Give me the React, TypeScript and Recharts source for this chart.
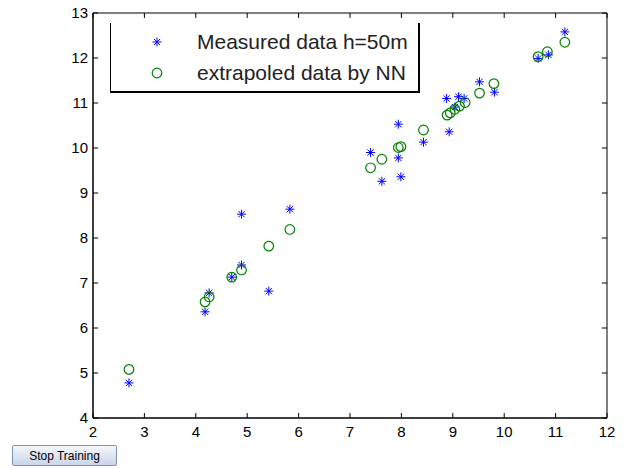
import { ReferenceArea, ReferenceLine, Scatter, ScatterChart, XAxis, YAxis } from 'recharts';

// measured (blue asterisks)
const measuredX = [2.7, 4.18, 4.26, 4.7, 4.89, 4.89, 5.42, 5.83, 7.4, 7.62, 7.94, 7.94, 7.99, 8.43, 8.88, 8.93, 9.04, 9.11, 9.22, 9.52, 9.81, 10.66, 10.86, 11.18];
const measuredY = [4.78, 6.36, 6.78, 7.13, 7.4, 8.53, 6.82, 8.64, 9.9, 9.26, 10.53, 9.78, 9.36, 10.13, 11.1, 10.36, 10.91, 11.14, 11.1, 11.47, 11.24, 11.99, 12.07, 12.58];

// network output (green circles)
const nnX = [2.7, 4.18, 4.26, 4.7, 4.89, 5.42, 5.83, 7.4, 7.62, 7.94, 7.99, 8.43, 8.89, 8.95, 9.04, 9.13, 9.24, 9.52, 9.8, 10.66, 10.84, 11.18];
const nnY = [5.08, 6.58, 6.69, 7.13, 7.29, 7.82, 8.19, 9.56, 9.75, 10.01, 10.03, 10.4, 10.73, 10.78, 10.86, 10.93, 11.01, 11.22, 11.43, 12.03, 12.14, 12.35];

const xTicks = [2, 3, 4, 5, 6, 7, 8, 9, 10, 11, 12];
const yTicks = [4, 5, 6, 7, 8, 9, 10, 11, 12, 13];

const measured = measuredX.map((x, i) => ({ x, y: measuredY[i] }));
const extrapolated = nnX.map((x, i) => ({ x, y: nnY[i] }));

const BLUE = '#0000ff';
const GREEN = '#008000';
const FONT = '"Liberation Sans", Arial, sans-serif';

// tick length in data units (~5px)
const TX = 0.1;
const TY = 0.11;

function Star({ cx, cy }: { cx?: number; cy?: number }) {
  if (cx == null || cy == null) return null;
  const r = 4.5;
  const d = r * 0.7;
  return (
    <g stroke={BLUE} strokeWidth={1}>
      <line x1={cx - r} y1={cy} x2={cx + r} y2={cy} />
      <line x1={cx} y1={cy - r} x2={cx} y2={cy + r} />
      <line x1={cx - d} y1={cy - d} x2={cx + d} y2={cy + d} />
      <line x1={cx - d} y1={cy + d} x2={cx + d} y2={cy - d} />
    </g>
  );
}

function Ring({ cx, cy }: { cx?: number; cy?: number }) {
  if (cx == null || cy == null) return null;
  return <circle cx={cx} cy={cy} r={4.8} fill="none" stroke={GREEN} strokeWidth={1.2} />;
}

function LegendBox() {
  const row = { display: 'flex', alignItems: 'center', height: 31 } as const;
  return (
    <div
      style={{
        position: 'absolute',
        left: 110,
        top: 23,
        width: 310,
        height: 70,
        borderLeft: '1px solid #000',
        borderRight: '2px solid #000',
        borderBottom: '2px solid #000',
        background: '#fff',
        fontFamily: FONT,
        fontSize: 21,
        color: '#222',
        paddingTop: 3,
        boxSizing: 'border-box',
      }}
    >
      <div style={row}>
        <svg width={86} height={20}>
          <Star cx={46} cy={10} />
        </svg>
        <span>Measured data h=50m</span>
      </div>
      <div style={row}>
        <svg width={86} height={20}>
          <Ring cx={46} cy={10} />
        </svg>
        <span>extrapoled data by NN</span>
      </div>
    </div>
  );
}

export default function App() {
  return (
    <div style={{ position: 'absolute', left: 0, top: 0, width: 624, height: 468, background: '#fff' }}>
      <ScatterChart width={624} height={468} margin={{ top: 13, right: 17, left: 0, bottom: 0 }}>
        <XAxis
          type="number"
          dataKey="x"
          domain={[2, 12]}
          ticks={xTicks}
          interval={0}
          height={50}
          stroke="#000"
          tickSize={0}
          tickMargin={8}
          tick={{ fill: '#000', fontSize: 15, fontFamily: FONT }}
          allowDataOverflow
        />
        <YAxis
          type="number"
          dataKey="y"
          domain={[4, 13]}
          ticks={yTicks}
          interval={0}
          width={93}
          stroke="#000"
          tickSize={0}
          tickMargin={5}
          tick={{ fill: '#000', fontSize: 15, fontFamily: FONT }}
          allowDataOverflow
        />
        <ReferenceArea x1={2} x2={12} y1={4} y2={13} fill="none" stroke="#000" strokeWidth={1} ifOverflow="visible" />
        {xTicks.map((t) => (
          <ReferenceLine key={`xb${t}`} segment={[{ x: t, y: 4 }, { x: t, y: 4 + TY }]} stroke="#000" ifOverflow="visible" />
        ))}
        {xTicks.map((t) => (
          <ReferenceLine key={`xt${t}`} segment={[{ x: t, y: 13 }, { x: t, y: 13 - TY }]} stroke="#000" ifOverflow="visible" />
        ))}
        {yTicks.map((t) => (
          <ReferenceLine key={`yl${t}`} segment={[{ x: 2, y: t }, { x: 2 + TX, y: t }]} stroke="#000" ifOverflow="visible" />
        ))}
        {yTicks.map((t) => (
          <ReferenceLine key={`yr${t}`} segment={[{ x: 12, y: t }, { x: 12 - TX, y: t }]} stroke="#000" ifOverflow="visible" />
        ))}
        <Scatter name="Measured data h=50m" data={measured} shape={<Star />} isAnimationActive={false} />
        <Scatter name="extrapoled data by NN" data={extrapolated} shape={<Ring />} isAnimationActive={false} />
      </ScatterChart>
      <LegendBox />
      <button
        style={{
          position: 'absolute',
          left: 12,
          top: 445,
          width: 105,
          height: 21,
          padding: 0,
          fontFamily: FONT,
          fontSize: 12,
          color: '#000',
          border: '1px solid #7f93b8',
          borderRadius: 2,
          background: 'linear-gradient(#f4f7fc, #c9d5ea)',
        }}
      >
        Stop Training
      </button>
    </div>
  );
}
